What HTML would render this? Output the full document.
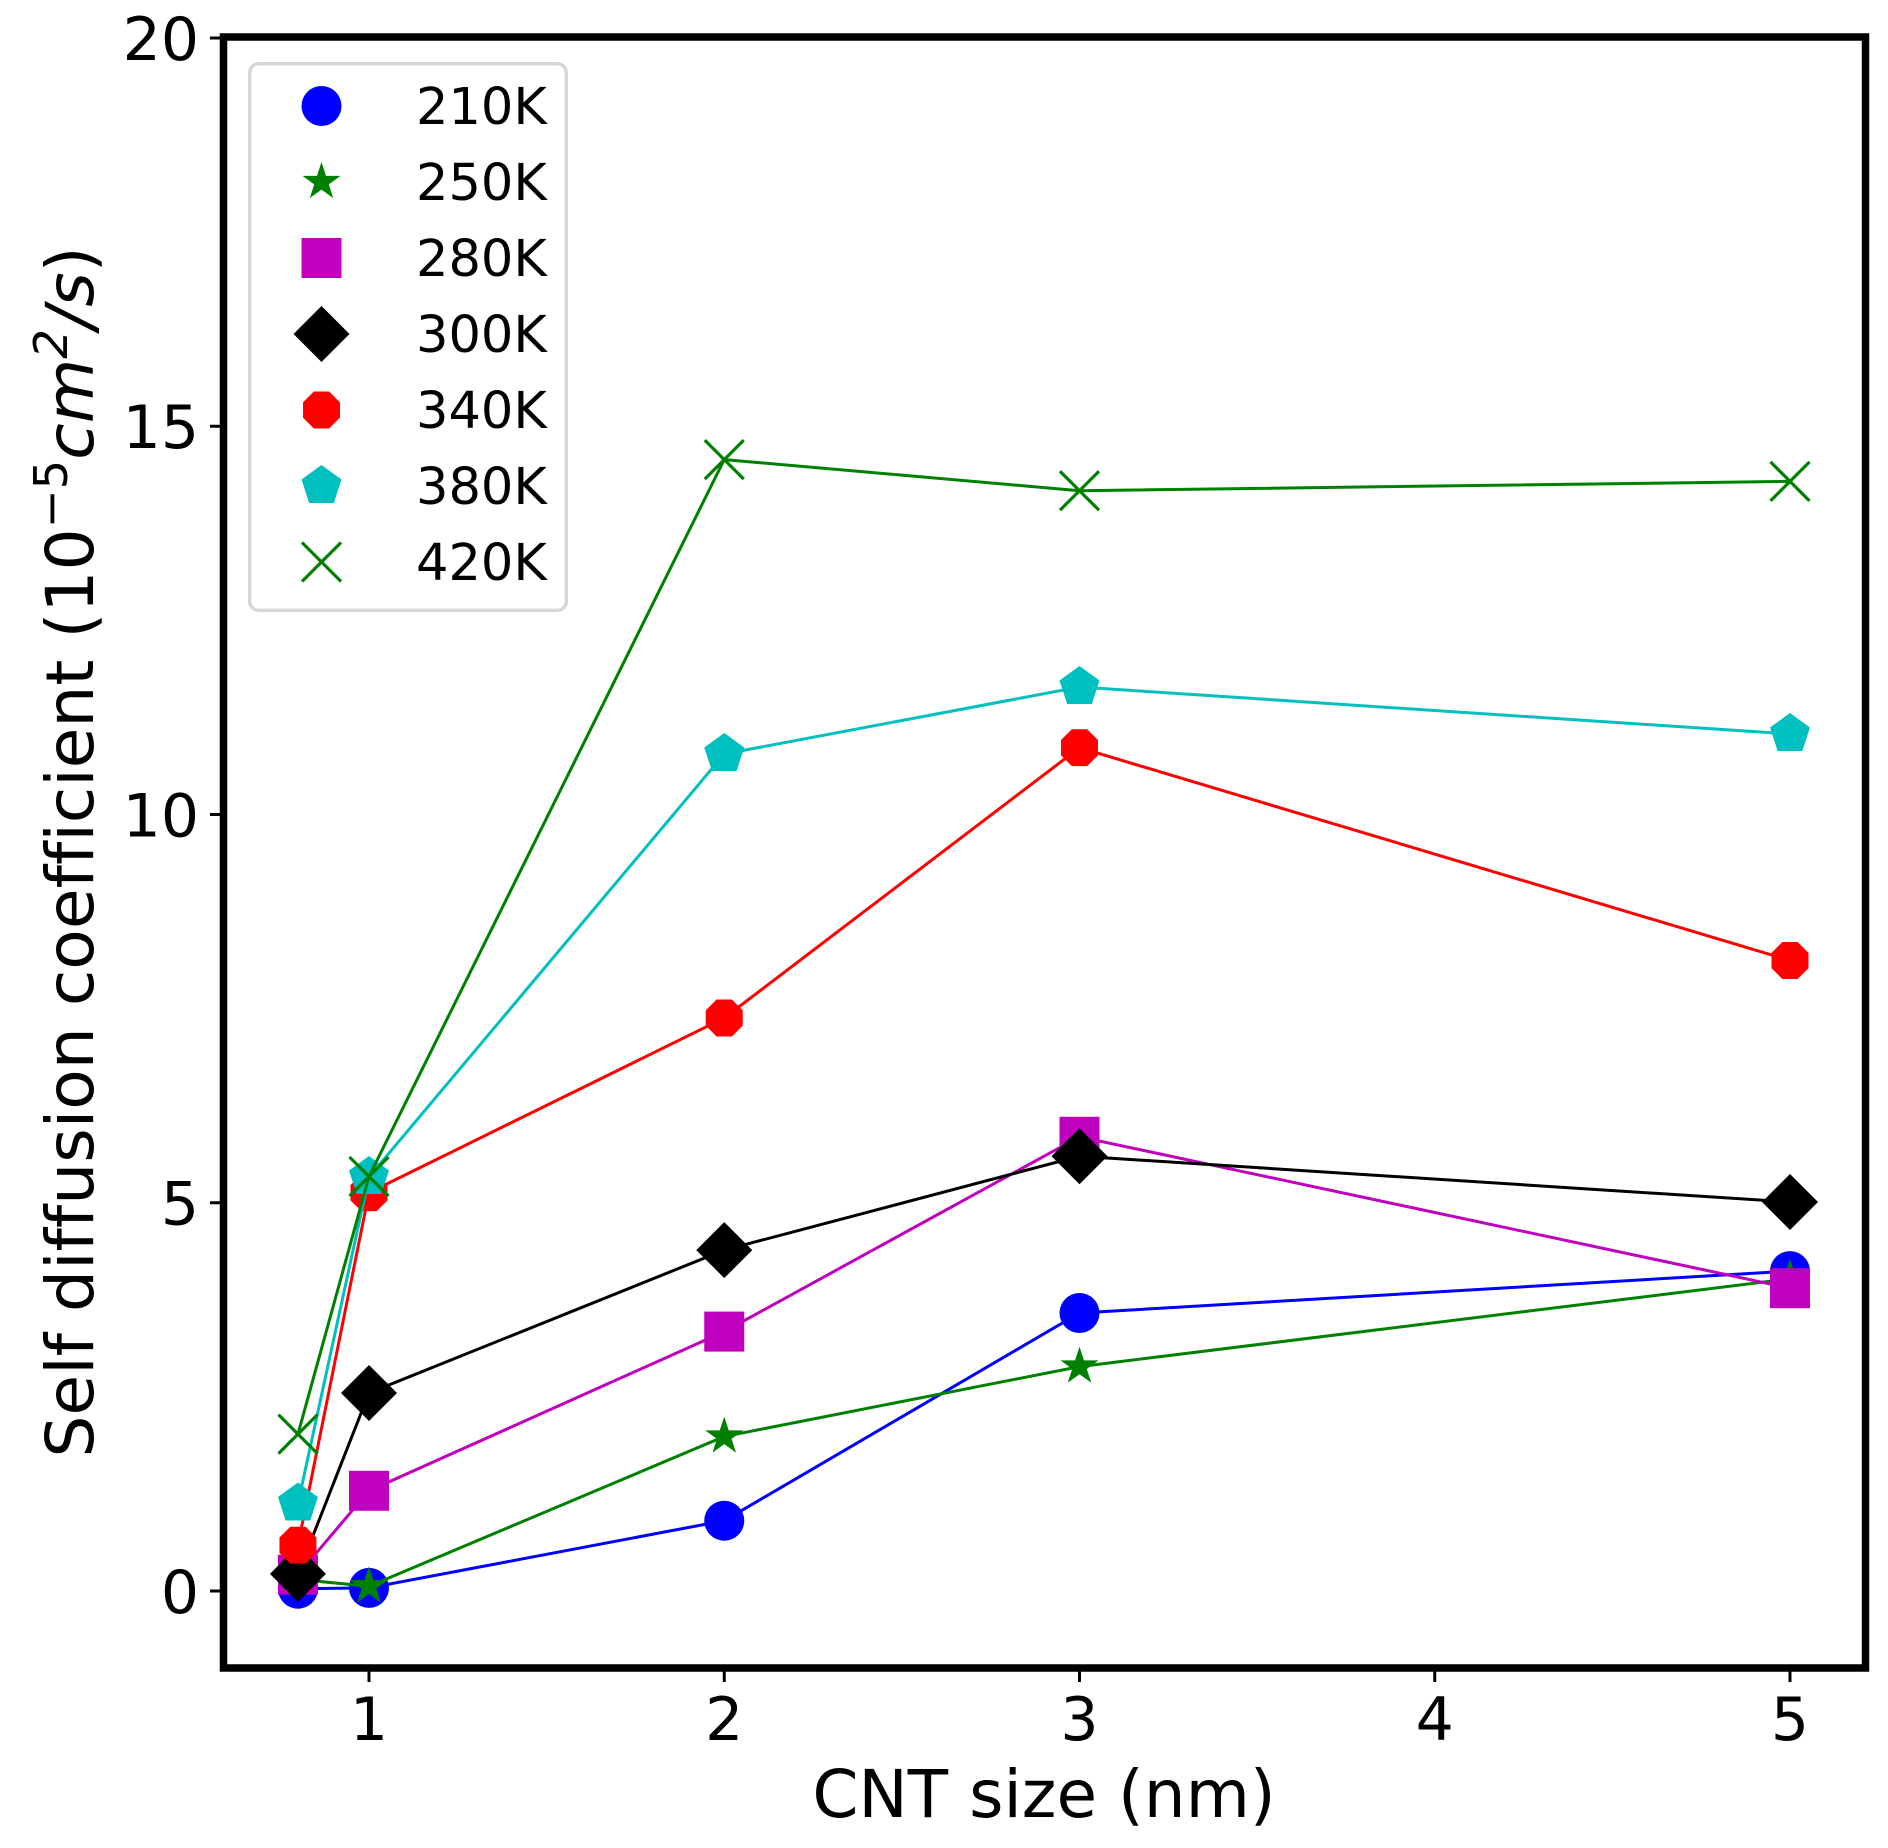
<!DOCTYPE html>
<html>
<head>
<meta charset="utf-8">
<style>
  html, body { margin:0; padding:0; background:#fff; }
  svg { display:block; }
  text { font-family: "DejaVu Sans", "Liberation Sans", sans-serif; font-variant-ligatures: none; font-feature-settings: "liga" 0, "clig" 0; fill:#000; }
</style>
</head>
<body>
<svg width="1888" height="1848" viewBox="0 0 1888 1848" xmlns="http://www.w3.org/2000/svg">
  <defs>
    <circle id="mc" cx="0" cy="0" r="20"/>
    <polygon id="ms" points="0,-20 4.49,-6.18 19.02,-6.18 7.27,2.36 11.76,16.18 0,7.64 -11.76,16.18 -7.27,2.36 -19.02,-6.18 -4.49,-6.18"/>
    <rect id="msq" x="-20" y="-20" width="40" height="40"/>
    <polygon id="md" points="0,-28 28,0 0,28 -28,0"/>
    <polygon id="mo" points="18.48,7.65 7.65,18.48 -7.65,18.48 -18.48,7.65 -18.48,-7.65 -7.65,-18.48 7.65,-18.48 18.48,-7.65"/>
    <polygon id="mp" points="0,-21 19.97,-6.49 12.34,16.99 -12.34,16.99 -19.97,-6.49"/>
    <path id="mx" d="M-19.5,-19.5 L19.5,19.5 M-19.5,19.5 L19.5,-19.5" fill="none" stroke-width="3.2"/>
  </defs>

  <!-- Series 210K -->
  <g fill="#0000ff" stroke="none">
    <polyline points="297.95,1588.7 369,1587.9 724.25,1520.7 1079.5,1313 1790,1271.1" fill="none" stroke="#0000ff" stroke-width="3"/>
    <use href="#mc" x="297.95" y="1588.7"/>
    <use href="#mc" x="369" y="1587.9"/>
    <use href="#mc" x="724.25" y="1520.7"/>
    <use href="#mc" x="1079.5" y="1313"/>
    <use href="#mc" x="1790" y="1271.1"/>
  </g>
  <!-- Series 250K -->
  <g fill="#008000" stroke="none">
    <polyline points="297.95,1579.4 369,1586.3 724.25,1436.5 1079.5,1366.6 1790,1278.8" fill="none" stroke="#008000" stroke-width="3"/>
    <use href="#ms" x="297.95" y="1579.4"/>
    <use href="#ms" x="369" y="1586.3"/>
    <use href="#ms" x="724.25" y="1436.5"/>
    <use href="#ms" x="1079.5" y="1366.6"/>
    <use href="#ms" x="1790" y="1278.8"/>
  </g>
  <!-- Series 280K -->
  <g fill="#bf00bf" stroke="none">
    <polyline points="297.95,1574.7 369,1490.8 724.25,1331.6 1079.5,1136.8 1790,1288.2" fill="none" stroke="#bf00bf" stroke-width="3"/>
    <use href="#msq" x="297.95" y="1574.7"/>
    <use href="#msq" x="369" y="1490.8"/>
    <use href="#msq" x="724.25" y="1331.6"/>
    <use href="#msq" x="1079.5" y="1136.8"/>
    <use href="#msq" x="1790" y="1288.2"/>
  </g>
  <!-- Series 300K -->
  <g fill="#000000" stroke="none">
    <polyline points="297.95,1573.9 369,1393 724.25,1250.1 1079.5,1156.2 1790,1202" fill="none" stroke="#000000" stroke-width="3"/>
    <use href="#md" x="297.95" y="1573.9"/>
    <use href="#md" x="369" y="1393"/>
    <use href="#md" x="724.25" y="1250.1"/>
    <use href="#md" x="1079.5" y="1156.2"/>
    <use href="#md" x="1790" y="1202"/>
  </g>
  <!-- Series 340K -->
  <g fill="#ff0000" stroke="none">
    <polyline points="297.95,1545.2 369,1192.7 724.25,1018 1079.5,747.7 1790,960.5" fill="none" stroke="#ff0000" stroke-width="3"/>
    <use href="#mo" x="297.95" y="1545.2"/>
    <use href="#mo" x="369" y="1192.7"/>
    <use href="#mo" x="724.25" y="1018"/>
    <use href="#mo" x="1079.5" y="747.7"/>
    <use href="#mo" x="1790" y="960.5"/>
  </g>
  <!-- Series 380K -->
  <g fill="#00bfbf" stroke="none">
    <polyline points="297.95,1503.5 369,1177 724.25,754 1079.5,687 1790,734" fill="none" stroke="#00bfbf" stroke-width="3"/>
    <use href="#mp" x="297.95" y="1503.5"/>
    <use href="#mp" x="369" y="1177"/>
    <use href="#mp" x="724.25" y="754"/>
    <use href="#mp" x="1079.5" y="687"/>
    <use href="#mp" x="1790" y="734"/>
  </g>
  <!-- Series 420K -->
  <g stroke="#008000" fill="none">
    <polyline points="297.95,1434.1 369,1176.5 724.25,459.6 1079.5,490.7 1790,481.4" fill="none" stroke="#008000" stroke-width="3"/>
    <use href="#mx" x="297.95" y="1434.1"/>
    <use href="#mx" x="369" y="1176.5"/>
    <use href="#mx" x="724.25" y="459.6"/>
    <use href="#mx" x="1079.5" y="490.7"/>
    <use href="#mx" x="1790" y="481.4"/>
  </g>

  <!-- Axes frame -->
  <rect x="223.5" y="37" width="1642" height="1631" fill="none" stroke="#000" stroke-width="7.5"/>

  <!-- Y ticks -->
  <g stroke="#000" stroke-width="3">
    <line x1="210" y1="38" x2="223.5" y2="38"/>
    <line x1="210" y1="426.25" x2="223.5" y2="426.25"/>
    <line x1="210" y1="814.5" x2="223.5" y2="814.5"/>
    <line x1="210" y1="1202.75" x2="223.5" y2="1202.75"/>
    <line x1="210" y1="1591" x2="223.5" y2="1591"/>
  </g>
  <g font-size="60" text-anchor="end">
    <text x="199" y="59.8">20</text>
    <text x="199" y="448">15</text>
    <text x="199" y="836.3">10</text>
    <text x="199" y="1224.5">5</text>
    <text x="199" y="1612.8">0</text>
  </g>

  <!-- X ticks -->
  <g stroke="#000" stroke-width="3">
    <line x1="369" y1="1668" x2="369" y2="1682"/>
    <line x1="724.25" y1="1668" x2="724.25" y2="1682"/>
    <line x1="1079.5" y1="1668" x2="1079.5" y2="1682"/>
    <line x1="1434.75" y1="1668" x2="1434.75" y2="1682"/>
    <line x1="1790" y1="1668" x2="1790" y2="1682"/>
  </g>
  <g font-size="60" text-anchor="middle">
    <text x="369" y="1740">1</text>
    <text x="724.25" y="1740">2</text>
    <text x="1079.5" y="1740">3</text>
    <text x="1434.75" y="1740">4</text>
    <text x="1790" y="1740">5</text>
  </g>

  <!-- Axis labels -->
  <text x="1044" y="1817" font-size="66" text-anchor="middle">CNT size (nm)</text>
  <text transform="translate(93,852) rotate(-90)" font-size="66.3" text-anchor="middle">Self diffusion coefficient (10<tspan font-size="46.5" dy="-26">−5</tspan><tspan dy="26" font-style="italic">cm</tspan><tspan font-size="46.5" dy="-26" font-style="italic">2</tspan><tspan dy="26" font-style="italic">/s</tspan>)</text>

  <!-- Legend -->
  <rect x="249.7" y="63.7" width="316.6" height="546.6" rx="9" ry="9" fill="#ffffff" fill-opacity="0.8" stroke="#d6d6d6" stroke-width="3.3"/>
  <use href="#mc" x="321.5" y="106" fill="#0000ff"/>
  <use href="#ms" x="321.5" y="182" fill="#008000"/>
  <use href="#msq" x="321.5" y="258" fill="#bf00bf"/>
  <use href="#md" x="321.5" y="334" fill="#000000"/>
  <use href="#mo" x="321.5" y="410" fill="#ff0000"/>
  <use href="#mp" x="321.5" y="486" fill="#00bfbf"/>
  <use href="#mx" x="321.5" y="562" stroke="#008000"/>
  <g font-size="51">
    <text x="416" y="124">210K</text>
    <text x="416" y="200">250K</text>
    <text x="416" y="276">280K</text>
    <text x="416" y="352">300K</text>
    <text x="416" y="428">340K</text>
    <text x="416" y="504">380K</text>
    <text x="416" y="580">420K</text>
  </g>
</svg>
</body>
</html>
